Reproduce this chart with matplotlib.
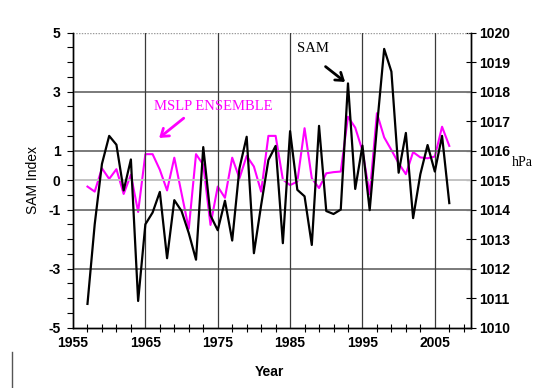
import matplotlib
matplotlib.use("Agg")
import matplotlib.pyplot as plt
from matplotlib.lines import Line2D
import numpy as np

years = list(range(1957, 2008))
sam_index = [-4.2, -1.5, 0.55, 1.5, 1.2, -0.35, 0.7, -4.1, -1.5, -1.1,
             -0.4, -2.65, -0.68, -1.05, -1.8, -2.7, 1.12, -1.2, -1.7, -0.7,
             -2.05, 0.4, 1.47, -2.48, -0.85, 0.68, 1.16, -2.14, 1.66, -0.33,
             -0.55, -2.2, 1.84, -1.05, -1.15, -1.0, 3.28, -0.3, 1.17, -1.02,
             1.8, 4.45, 3.68, 0.25, 1.6, -1.29, 0.2, 1.19, 0.29, 1.5, -0.78]
mslp_hpa = [1014.78, 1014.61, 1015.40, 1015.04, 1015.37, 1014.53, 1015.18, 1013.92, 1015.88, 1015.88,
            1015.35, 1014.65, 1015.76, 1014.55, 1013.35, 1015.88, 1015.52, 1013.48, 1014.78, 1014.40,
            1015.76, 1015.06, 1015.82, 1015.46, 1014.61, 1016.50, 1016.50, 1015.02, 1014.83, 1014.95,
            1016.76, 1015.06, 1014.73, 1015.23, 1015.27, 1015.29, 1017.15, 1016.78, 1016.00, 1014.52,
            1017.27, 1016.45, 1016.02, 1015.57, 1015.20, 1015.95, 1015.77, 1015.74, 1015.80, 1016.81, 1016.16]

left_ticks = [5, 3, 1, 0, -1, -3, -5]
right_ticks = list(range(1010, 1021))
year_labels = [1955, 1965, 1975, 1985, 1995, 2005]

W, H = 536, 388
fig = plt.figure(figsize=(W / 100, H / 100), dpi=100)
fig.patch.set_facecolor("white")

L, R, T, B = 73, 471, 32.7, 327.5
ax = fig.add_axes([L / W, 1 - B / H, (R - L) / W, (B - T) / H])
ax2 = ax.twinx()

ax.set_xlim(1955, 2010)
ax.set_ylim(-5, 5)
ax2.set_ylim(1010, 1020)

# grid lines
for g in [3, 1, -1, -3]:
    ax.axhline(g, color="#7a7a7a", lw=1.4, zorder=1)
ax.axhline(0, color="#c2c2c2", lw=1.4, zorder=1)
ax.axhline(5, color="#9a9a9a", lw=1.0, ls=(0, (1, 1)), zorder=1)
for v in year_labels[1:]:
    ax.axvline(v, color="#3a3a3a", lw=0.9, zorder=1)

ax2.plot(years, mslp_hpa, color="#ff00ff", lw=1.5, zorder=3)
ax.plot(years, sam_index, color="black", lw=1.6, zorder=4)
ax.set_zorder(ax2.get_zorder() + 1)
ax.patch.set_visible(False)

# spines
for a in (ax, ax2):
    a.spines["top"].set_visible(False)
    for s in ("left", "right", "bottom"):
        a.spines[s].set_color("black")
        a.spines[s].set_linewidth(1.0)

tick_font = dict(fontsize=10, fontweight="bold", family="Liberation Sans")

ax.set_yticks(left_ticks)
ax.set_yticklabels([str(t) for t in left_ticks], **tick_font)
ax.set_yticks(np.arange(-5, 5.01, 0.5), minor=True)
ax.tick_params(axis="y", which="both", direction="out", length=4, width=0.8, pad=5)

ax.set_xticks(year_labels)
ax.set_xticklabels([str(y) for y in year_labels], **tick_font)
ax.set_xticks(np.arange(1955, 2010, 2), minor=True)
ax.tick_params(axis="x", which="both", direction="inout", length=6, width=0.8, pad=6)
ax.tick_params(axis="x", which="major", length=0)

ax2.set_yticks(right_ticks)
ax2.set_yticklabels([str(t) for t in right_ticks], **tick_font)
ax2.tick_params(axis="y", which="both", direction="inout", length=7, width=0.8, pad=2)

# annotations
ax.annotate("", xy=(1992.6, 3.33), xytext=(1989.9, 3.85),
            arrowprops=dict(arrowstyle="->,head_length=0.5,head_width=0.35",
                            color="black", lw=2.0, shrinkA=0, shrinkB=0), zorder=6)
ax.text(1988.1, 4.47, "SAM", fontsize=10.5, family="Liberation Serif",
        ha="center", va="center", color="black", zorder=6)

ax.annotate("", xy=(1966.9, 1.43), xytext=(1970.3, 2.1),
            arrowprops=dict(arrowstyle="->,head_length=0.5,head_width=0.35",
                            color="#ff00ff", lw=2.0, shrinkA=0, shrinkB=0), zorder=6)
ax.text(1974.4, 2.48, "MSLP ENSEMBLE", fontsize=10.5, family="Liberation Serif",
        ha="center", va="center", color="#ff00ff", zorder=6)

# axis labels
fig.text(33 / W, 1 - 180 / H, "SAM Index", rotation=90, ha="center", va="center",
         fontsize=10, family="Liberation Sans")
fig.text(269 / W, 1 - 372 / H, "Year", ha="center", va="center",
         fontsize=10, fontweight="bold", family="Liberation Sans")
fig.text(522 / W, 1 - 162 / H, "hPa", ha="center", va="center",
         fontsize=10, family="Liberation Serif")

# partial outer frame at bottom-left
fig.add_artist(Line2D([12 / W, 12 / W], [0, 1 - 352 / H], color="#555555", lw=1.0,
                      transform=fig.transFigure))

fig.savefig("out.png", dpi=100, facecolor="white")
